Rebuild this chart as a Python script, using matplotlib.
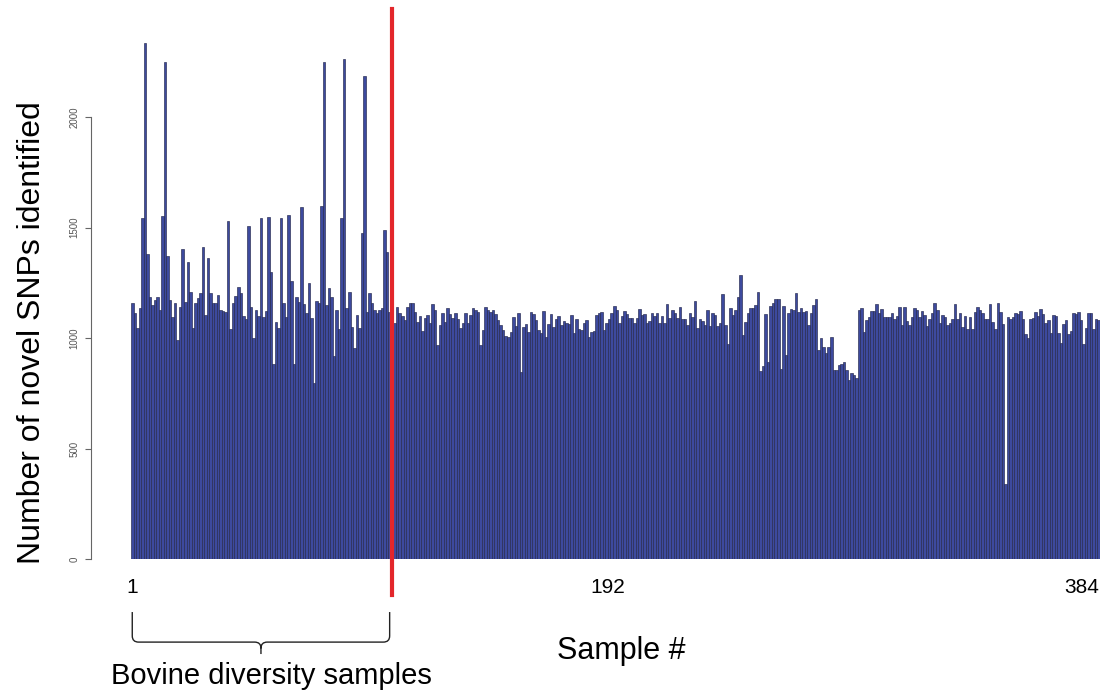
import numpy as np
import matplotlib.pyplot as plt
from matplotlib.path import Path
from matplotlib.patches import PathPatch
from matplotlib.transforms import ScaledTranslation

plt.rcParams['font.family'] = ['Liberation Sans', 'DejaVu Sans']

# novel SNP counts per sample in blocks of samples
snps_001_037 = [1158, 1113, 1045, 1136, 1543, 2336, 1380, 1186, 1149, 1172,
                1186, 1127, 1552, 2250, 1371, 1172, 1095, 1158, 991, 1140,
                1403, 1163, 1344, 1208, 1045, 1158, 1181, 1204, 1412, 1104,
                1362, 1204, 1158, 1158, 1195, 1127, 1122]
snps_038_075 = [1118, 1531, 1041, 1158, 1190, 1231, 1204, 1100, 1086, 1508,
                1140, 1000, 1127, 1100, 1543, 1095, 1122, 1548, 1299, 882,
                1072, 1045, 1543, 1158, 1095, 1557, 1258, 882, 1186, 1163,
                1593, 1154, 1113, 1249, 1091, 796, 1167, 1158]
snps_076_111 = [1597, 2250, 1149, 1226, 1186, 918, 1127, 1041, 1543, 2263,
                1136, 1208, 1050, 955, 1104, 1045, 1475, 2186, 1118, 1204,
                1158, 1127, 1113, 1127, 1136, 1489, 1389, 1118, 1120, 1068,
                1140, 1113, 1100, 1082, 1140, 1158]
snps_112_151 = [1160, 1119, 1074, 1100, 1033, 1089, 1104, 1069, 1154, 1127,
                968, 1059, 1112, 1074, 1134, 1109, 1089, 1112, 1085, 1044,
                1066, 1112, 1066, 1104, 1134, 1127, 1116, 968, 1036, 1142,
                1127, 1119, 1127, 1107, 1082, 1059, 1036, 1009, 1003, 1029]
snps_152_189 = [1097, 1054, 1112, 848, 1051, 1063, 1029, 1119, 1107, 1081,
                1036, 1021, 1124, 1006, 1063, 1109, 1051, 1085, 1101, 1059,
                1078, 1069, 1063, 1104, 1021, 1086, 1039, 1036, 1069, 1081,
                1006, 1029, 1033, 1104, 1112, 1119, 1036, 1066]
snps_190_226 = [1085, 1112, 1145, 1127, 1069, 1100, 1124, 1109, 1089, 1089,
                1066, 1089, 1130, 1104, 1109, 1066, 1078, 1112, 1100, 1112,
                1069, 1100, 1066, 1152, 1089, 1127, 1115, 1089, 1142, 1085,
                1085, 1059, 1112, 1093, 1169, 1044, 1085]
snps_227_263 = [1078, 1059, 1127, 1054, 1112, 1104, 1054, 1069, 1199, 1059,
                973, 1134, 1104, 1127, 1187, 1285, 1014, 1074, 1115, 1134,
                1134, 1149, 1207, 852, 873, 1109, 893, 1145, 1157, 1175,
                1177, 858, 1145, 923, 1112, 1130, 1127]
snps_264_301 = [1202, 1119, 1134, 1119, 1124, 1059, 1112, 1149, 1176, 946,
                1001, 958, 931, 961, 1006, 855, 855, 878, 882, 893,
                855, 810, 840, 833, 818, 1127, 1134, 1029, 1081, 1097,
                1124, 1124, 1154, 1112, 1130, 1097, 1097, 1097]
snps_302_339 = [1112, 1085, 1100, 1139, 1059, 1142, 1078, 1059, 1097, 1134,
                1127, 1097, 1124, 1104, 1054, 1085, 1115, 1157, 1127, 1066,
                1104, 1094, 1059, 1069, 1085, 1152, 1085, 1112, 1048, 1100,
                1039, 1097, 1039, 1119, 1142, 1127, 1115, 1085]
snps_340_384 = [1085, 1154, 1074, 1039, 1157, 1119, 1063, 340, 1094, 1085,
                1094, 1115, 1109, 1124, 1085, 1018, 999, 1085, 1089, 1119,
                1100, 1130, 1109, 1066, 1081, 1024, 1104, 1100, 1024, 979,
                1063, 1081, 1018, 1033, 1112, 1109, 1119, 1081, 973, 1044,
                1115, 1115, 1039, 1085, 1081]

snps = np.array(snps_001_037 + snps_038_075 + snps_076_111 + snps_112_151 +
                snps_152_189 + snps_190_226 + snps_227_263 + snps_264_301 +
                snps_302_339 + snps_340_384)
samples = np.arange(1, len(snps) + 1)

n_bovine = 104          # last of the bovine diversity samples (red divider)
x_ticks = [1, 192, 384]
y_ticks = [0, 500, 1000, 1500, 2000]

fig = plt.figure(figsize=(11.12, 6.9), dpi=100)
ax = fig.add_axes([131 / 1112, 131 / 690, (1100 - 131) / 1112, 530.4 / 690])

ax.bar(samples, snps, width=1.0, color='#3d4a9e', edgecolor='#25284d', linewidth=0.45)
ax.set_xlim(0.5, len(snps) + 0.5)
ax.set_ylim(0, 2400)

# R-style detached y axis
for s in ['top', 'right', 'bottom']:
    ax.spines[s].set_visible(False)
ax.spines['left'].set_position(('outward', 29))
ax.spines['left'].set_bounds(0, 2000)
ax.spines['left'].set_color('#666666')
ax.set_yticks(y_ticks)
ax.set_yticklabels([str(v) for v in y_ticks], rotation=90, va='center',
                   fontsize=7, color='#555555')
ax.tick_params(axis='y', length=4, color='#666666', pad=4)
ax.set_ylabel('Number of novel SNPs identified', fontsize=23)
ax.yaxis.set_label_coords(-0.102, 0.427)
ax.yaxis.label.set_verticalalignment('center')

ax.set_xticks(x_ticks)
ax.set_xticklabels([str(v) for v in x_ticks], fontsize=15)
ax.tick_params(axis='x', length=0, pad=14)
xlabels = ax.get_xticklabels()
xlabels[1].set_transform(xlabels[1].get_transform() +
                         ScaledTranslation(-0.06, 0, fig.dpi_scale_trans))
xlabels[-1].set_horizontalalignment('right')
ax.set_xlabel('Sample #', fontsize=22)
ax.xaxis.set_label_coords(0.506, -0.145)
ax.xaxis.label.set_verticalalignment('top')

# divider between bovine diversity samples and the rest
ax.plot([n_bovine, n_bovine], [-165, 2490], color='#e3262b', linewidth=3,
        clip_on=False, zorder=5)

# curly brace under the bovine samples
x0, x1 = 1, n_bovine - 1
xm = (x0 + x1) / 2
top, mid, tip = -240, -376, -430
dx, dy = 2.5, 28
verts = [(x0, top), (x0, mid + dy), (x0, mid), (x0 + dx, mid),
         (xm - dx, mid), (xm, mid), (xm, mid - dy), (xm, tip),
         (xm, mid - dy), (xm, mid), (xm + dx, mid),
         (x1 - dx, mid), (x1, mid), (x1, mid + dy), (x1, top)]
codes = [Path.MOVETO, Path.LINETO, Path.CURVE3, Path.CURVE3,
         Path.LINETO, Path.CURVE3, Path.CURVE3, Path.LINETO,
         Path.MOVETO, Path.CURVE3, Path.CURVE3,
         Path.LINETO, Path.CURVE3, Path.CURVE3, Path.LINETO]
ax.add_patch(PathPatch(Path(verts, codes), facecolor='none', edgecolor='#222222',
                       linewidth=1.0, clip_on=False))
ax.text(56, -468, 'Bovine diversity samples', ha='center', va='top', fontsize=21)

fig.savefig('out.png', dpi=100)
